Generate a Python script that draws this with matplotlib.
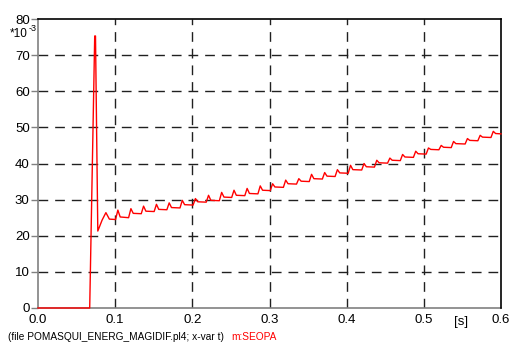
import matplotlib
matplotlib.use('Agg')
import matplotlib.pyplot as plt

plt.rcParams['font.family'] = ['Liberation Sans', 'DejaVu Sans']

# time [s] and m:SEOPA [*10^-3]
t = [0.0, 0.067, 0.0735, 0.0745, 0.0775, 0.083, 0.088, 0.0925,
     0.1005, 0.1035, 0.1065,
     0.1174, 0.1204, 0.1234,
     0.1338, 0.1368, 0.1398,
     0.1505, 0.1535, 0.1565,
     0.167, 0.170, 0.173,
     0.184, 0.187, 0.190,
     0.201, 0.204, 0.207,
     0.218, 0.221, 0.224,
     0.235, 0.238, 0.241,
     0.251, 0.254, 0.257,
     0.268, 0.271, 0.274,
     0.285, 0.288, 0.291,
     0.301, 0.304, 0.307,
     0.318, 0.321, 0.324,
     0.335, 0.338, 0.341,
     0.3515, 0.3545, 0.3575,
     0.3685, 0.3715, 0.3745,
     0.385, 0.388, 0.391,
     0.402, 0.405, 0.408,
     0.4195, 0.4225, 0.4255,
     0.436, 0.439, 0.442,
     0.453, 0.456, 0.459,
     0.4695, 0.4725, 0.4755,
     0.4865, 0.4895, 0.4925,
     0.503, 0.506, 0.509,
     0.5195, 0.5225, 0.5255,
     0.5355, 0.5385, 0.5415,
     0.5535, 0.5565, 0.5595,
     0.570, 0.573, 0.576,
     0.587, 0.590, 0.593,
     0.6]
seopa = [0.0, 0.0, 75.3, 75.3, 21.3, 24.3, 26.4, 24.6,
         24.5, 27.1, 25.2,
         25.0, 27.5, 26.2,
         26.1, 28.2, 26.8,
         26.7, 28.7, 27.3,
         27.2, 29.1, 27.8,
         27.7, 29.8, 28.6,
         28.5, 30.3, 29.4,
         29.3, 31.2, 29.8,
         29.7, 32.0, 30.7,
         30.6, 32.6, 31.2,
         31.1, 33.1, 31.7,
         31.6, 33.8, 32.6,
         32.5, 34.4, 33.5,
         33.4, 35.4, 34.4,
         34.3, 35.8, 35.1,
         35.0, 37.0, 35.8,
         35.7, 37.5, 36.5,
         36.4, 38.3, 37.4,
         37.3, 39.5, 38.3,
         38.2, 40.0, 39.1,
         39.0, 40.9, 40.2,
         40.1, 41.5, 40.9,
         40.8, 42.5, 41.8,
         41.7, 43.4, 42.7,
         42.6, 44.3, 43.9,
         43.8, 45.0, 44.5,
         44.4, 46.1, 45.5,
         45.4, 46.9, 46.4,
         46.3, 47.8, 47.3,
         47.2, 48.9, 48.3,
         48.2]

xticks = [0.0, 0.1, 0.2, 0.3, 0.4, 0.5, 0.6]
xlabels = ['0.0', '0.1', '0.2', '0.3', '0.4', '0.5', '0.6']
yticks = [0, 10, 20, 30, 40, 50, 60, 70, 80]
ylabels = ['0', '10', '20', '30', '40', '50', '60', '70', '80']

W, H = 511, 344
fig = plt.figure(figsize=(W / 100, H / 100), dpi=100)
ax = fig.add_axes([38 / W, 1 - 308 / H, (501 - 38) / W, (308 - 19) / H])

# dashed grid, only inner lines
for x in xticks[1:-1]:
    ax.axvline(x, color='#202020', lw=1.0, linestyle=(0, (7, 5)), zorder=1)
for y in yticks[1:-1]:
    ax.axhline(y, color='#202020', lw=1.0, linestyle=(0, (7, 5)), zorder=1)

ax.plot(t, seopa, color='#ff0000', lw=1.0, zorder=5, clip_on=False)

ax.set_xlim(0, 0.6)
ax.set_ylim(0, 80)
ax.set_xticks(xticks)
ax.set_xticklabels(xlabels)
ax.set_yticks(yticks)
ax.set_yticklabels(ylabels)
ax.tick_params(axis='x', length=0, pad=4, labelsize=9.5)
ax.tick_params(axis='y', length=5, width=1, color='#808080', pad=1, labelsize=9.5)

for side in ['left', 'bottom']:
    ax.spines[side].set_color('#808080')
    ax.spines[side].set_linewidth(1.2)
    ax.spines[side].set_zorder(2)
for side in ['top', 'right']:
    ax.spines[side].set_color('black')
    ax.spines[side].set_linewidth(1.2)

# scale factor at top left
fig.text(10 / W, 1 - 37 / H, '*10', fontsize=8.5, va='baseline', ha='left')
fig.text(29 / W, 1 - 31 / H, '-3', fontsize=6.5, va='baseline', ha='left')

fig.text(461 / W, 1 - 322 / H, '[s]', fontsize=9.5, ha='center', va='center')

fig.text(8 / W, 1 - 337 / H, '(file POMASQUI_ENERG_MAGIDIF.pl4; x-var t)',
         fontsize=7.3, ha='left', va='center')
fig.text(231 / W, 1 - 337 / H, 'm:SEOPA', fontsize=7.3, color='#ff0000',
         ha='left', va='center')

fig.savefig('out.png', dpi=100)
